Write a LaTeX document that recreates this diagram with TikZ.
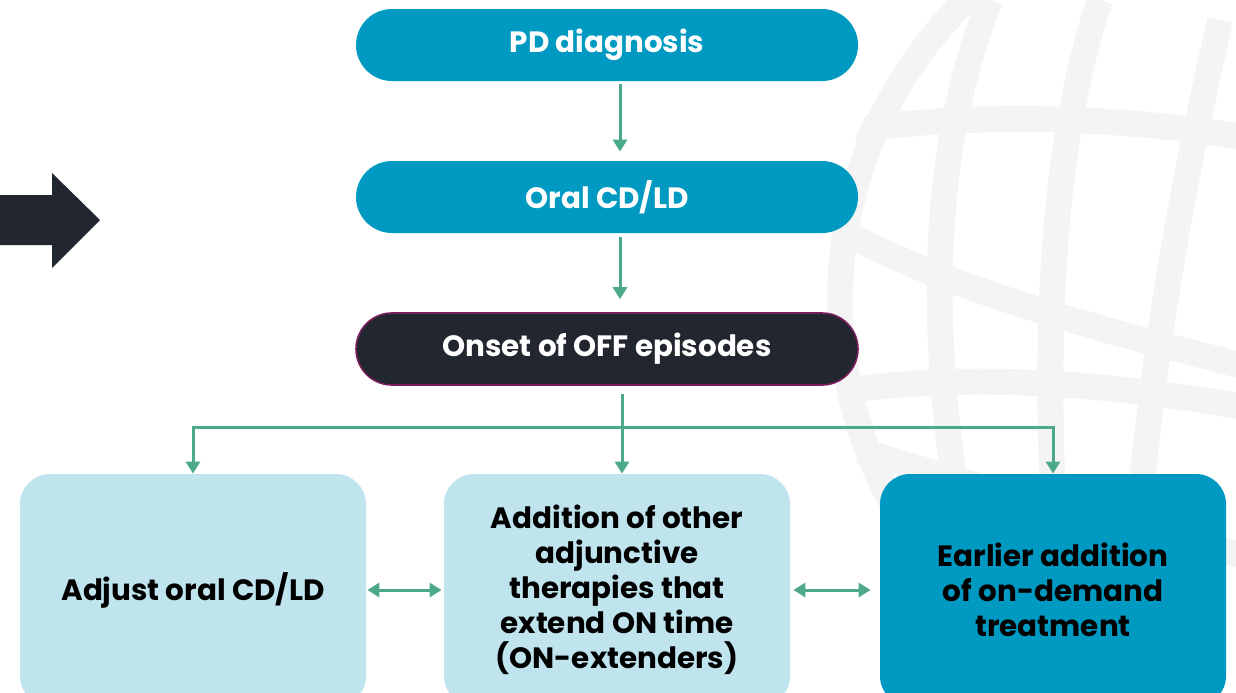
\documentclass[tikz,border=0pt]{standalone}
\usepackage{fontspec}
\setmainfont{Poppins}
\usetikzlibrary{arrows.meta}
\definecolor{pdblue}{HTML}{0099C1}
\definecolor{pddark}{HTML}{22272F}
\definecolor{pdplum}{HTML}{7A1D5C}
\definecolor{pdlight}{HTML}{BFE4EE}
\definecolor{pdgreen}{HTML}{4DAA88}
\definecolor{globegray}{HTML}{F4F4F4}
\begin{document}
\begin{tikzpicture}[x=0.5pt,y=-0.5pt,
  pill/.style={rectangle,rounded corners=18pt,minimum width=251pt,minimum height=36pt,
    fill=pdblue,text=white,font=\bfseries\fontsize{14.7}{17.5}\selectfont},
  box/.style={rectangle,rounded corners=15pt,minimum width=173pt,minimum height=116pt,
    align=center,font=\bfseries\fontsize{14.7}{17.5}\selectfont},
  flow/.style={draw=pdgreen,line width=1.5pt,-{Triangle[width=7pt,length=6pt]}},
  both/.style={flow,{Triangle[width=7pt,length=6pt]}-{Triangle[width=7pt,length=6pt]}},
  globe/.style={draw=globegray,line width=13pt}]

	\useasboundingbox (0,0) rectangle (1236,692);
	\clip (0,0) rectangle (1236,692);

	% globe in the background
	\begin{scope}
		\clip (1260,300) circle (435);
		\draw[globe] (1260,300) circle (420);
		\draw[globe] (990,0) .. controls (930,150) and (920,350) .. (980,620);
		\draw[globe] (1100,0) .. controls (1050,150) and (1040,350) .. (1060,620);
		\draw[globe] (1220,20) .. controls (1180,200) and (1150,350) .. (1130,620);
		\draw[globe] (850,130) .. controls (1000,110) and (1150,120) .. (1260,140);
		\draw[globe] (840,230) .. controls (950,290) and (1100,330) .. (1260,370);
		\draw[globe] (850,390) .. controls (1000,370) and (1150,390) .. (1260,410);
		\draw[globe] (860,450) .. controls (950,480) and (1100,520) .. (1260,560);
	\end{scope}

	% arrow on the left
	\fill[pddark] (0,195) -- (52,195) -- (52,173) -- (100,220) -- (52,268) -- (52,245) -- (0,245) -- cycle;

	\node[pill] (pd) at (607,45) {PD diagnosis};
	\node[pill] (oral) at (607,197) {Oral CD/LD};
	\node[pill,fill=pddark,draw=pdplum,line width=0.8pt] (onset) at (607,349) {Onset of OFF episodes};

	\node[box,fill=pdlight] (left) at (193,590) {Adjust oral CD/LD};
	\node[box,fill=pdlight] (mid) at (617,590) {Addition of other\\adjunctive\\therapies that\\extend ON time\\(ON-extenders)};
	\node[box,fill=pdblue] (right) at (1053,590) {Earlier addition\\of on-demand\\treatment};

	\coordinate (split) at (622,427);

	\draw[flow,shorten <=1.5pt,shorten >=4.5pt] ([xshift=6.5pt]pd.south) -- ([xshift=6.5pt]oral.north);
	\draw[flow,shorten <=2pt,shorten >=6.5pt] ([xshift=6.5pt]oral.south) -- ([xshift=6.5pt]onset.north);
	\draw[flow,shorten <=4pt] (onset.south -| split) -- (mid.north -| split);
	\draw[flow] (split) -| (left.north);
	\draw[flow] (split) -| (right.north);

	\draw[both,shorten <=0.5pt,shorten >=1pt] (left.east) -- (mid.west);
	\draw[both,shorten <=1.5pt,shorten >=4.5pt] (mid.east) -- (right.west);
\end{tikzpicture}
\end{document}
